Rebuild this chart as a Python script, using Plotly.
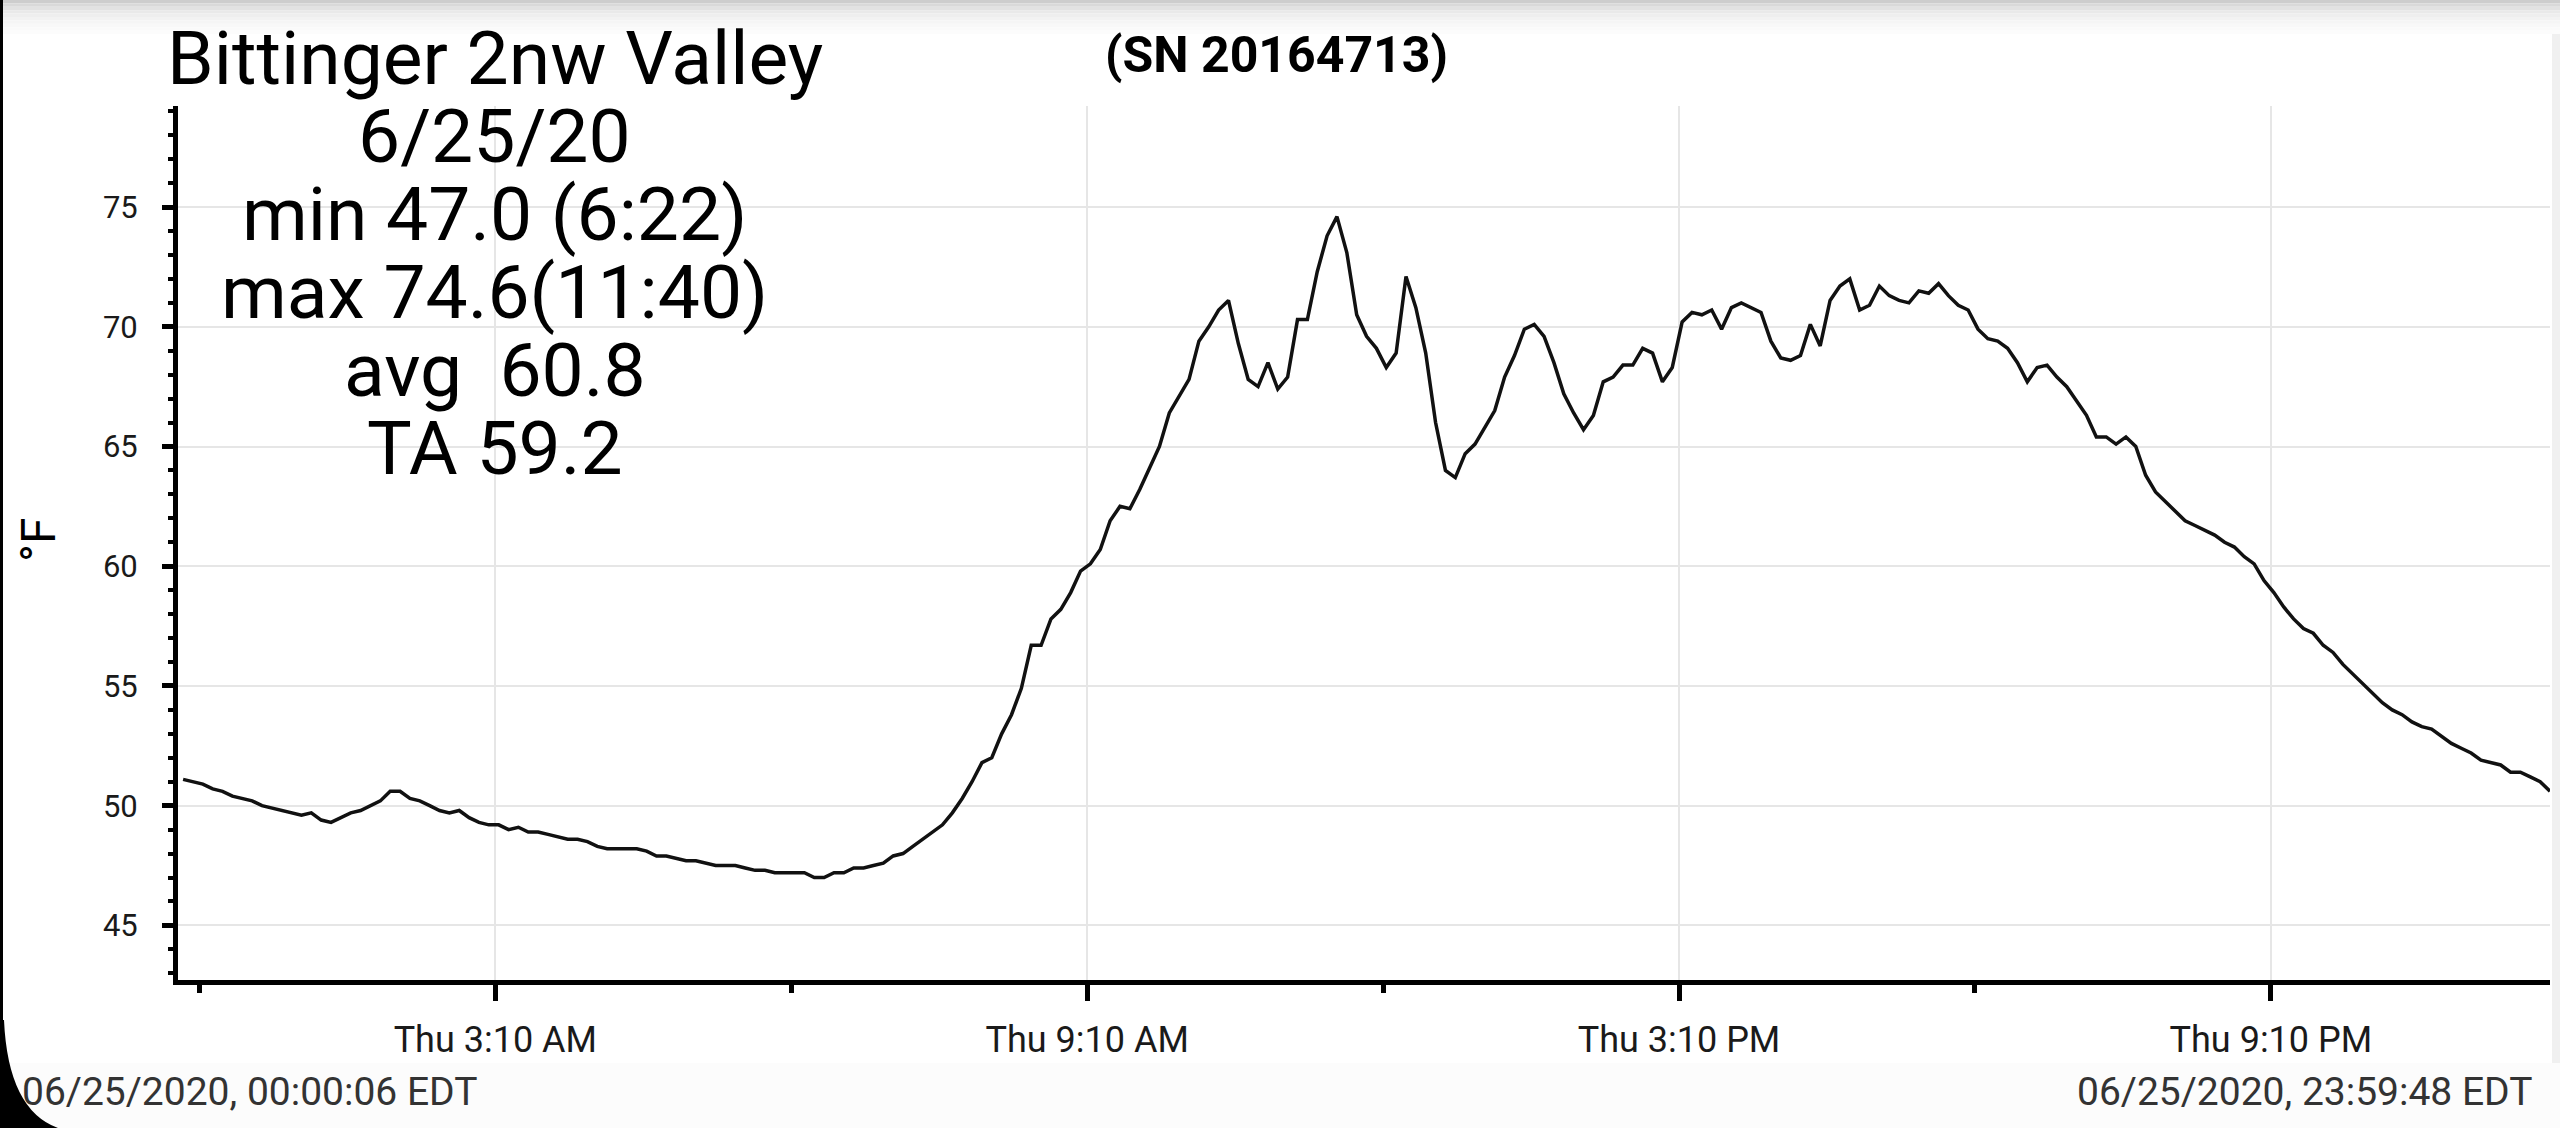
import pandas as pd
import plotly.graph_objects as go

# Temperature log, one reading about every 6 minutes
start_time = "2020-06-25 00:00:06"
end_time = "2020-06-25 23:59:48"
temps = [
    51.1, 51.0, 50.9, 50.7, 50.6, 50.4, 50.3, 50.2, 50.0, 49.9,
    49.8, 49.7, 49.6, 49.7, 49.4, 49.3, 49.5, 49.7, 49.8, 50.0,
    50.2, 50.6, 50.6, 50.3, 50.2, 50.0, 49.8, 49.7, 49.8, 49.5,
    49.3, 49.2, 49.2, 49.0, 49.1, 48.9, 48.9, 48.8, 48.7, 48.6,
    48.6, 48.5, 48.3, 48.2, 48.2, 48.2, 48.2, 48.1, 47.9, 47.9,
    47.8, 47.7, 47.7, 47.6, 47.5, 47.5, 47.5, 47.4, 47.3, 47.3,
    47.2, 47.2, 47.2, 47.2, 47.0, 47.0, 47.2, 47.2, 47.4, 47.4,
    47.5, 47.6, 47.9, 48.0, 48.3, 48.6, 48.9, 49.2, 49.7, 50.3,
    51.0, 51.8, 52.0, 53.0, 53.8, 54.9, 56.7, 56.7, 57.8, 58.2,
    58.9, 59.8, 60.1, 60.7, 61.9, 62.5, 62.4, 63.2, 64.1, 65.0,
    66.4, 67.1, 67.8, 69.4, 70.0, 70.7, 71.1, 69.3, 67.8, 67.5,
    68.5, 67.4, 67.9, 70.3, 70.3, 72.3, 73.8, 74.6, 73.1, 70.5,
    69.6, 69.1, 68.3, 68.9, 72.1, 70.8, 68.9, 66.0, 64.0, 63.7,
    64.7, 65.1, 65.8, 66.5, 67.9, 68.8, 69.9, 70.1, 69.6, 68.5,
    67.2, 66.4, 65.7, 66.3, 67.7, 67.9, 68.4, 68.4, 69.1, 68.9,
    67.7, 68.3, 70.2, 70.6, 70.5, 70.7, 69.9, 70.8, 71.0, 70.8,
    70.6, 69.4, 68.7, 68.6, 68.8, 70.1, 69.2, 71.1, 71.7, 72.0,
    70.7, 70.9, 71.7, 71.3, 71.1, 71.0, 71.5, 71.4, 71.8, 71.3,
    70.9, 70.7, 69.9, 69.5, 69.4, 69.1, 68.5, 67.7, 68.3, 68.4,
    67.9, 67.5, 66.9, 66.3, 65.4, 65.4, 65.1, 65.4, 65.0, 63.8,
    63.1, 62.7, 62.3, 61.9, 61.7, 61.5, 61.3, 61.0, 60.8, 60.4,
    60.1, 59.4, 58.9, 58.3, 57.8, 57.4, 57.2, 56.7, 56.4, 55.9,
    55.5, 55.1, 54.7, 54.3, 54.0, 53.8, 53.5, 53.3, 53.2, 52.9,
    52.6, 52.4, 52.2, 51.9, 51.8, 51.7, 51.4, 51.4, 51.2, 51.0,
    50.6,
]
times = pd.date_range(start_time, end_time, periods=len(temps))

title_lines = [
    "Bittinger 2nw Valley",
    "6/25/20",
    "min 47.0 (6:22)",
    "max 74.6(11:40)",
    "avg\u00a0 60.8",
    "TA 59.2",
]
serial_text = "(SN 20164713)"
start_label = "06/25/2020, 00:00:06 EDT"
end_label = "06/25/2020, 23:59:48 EDT"

# page geometry in pixels
W, H = 2560, 1128
L, R, T, B = 178, 10, 106, 148
pw = W - L - R
ph = H - T - B


def fx(px):
    return (px - L) / pw


def fy(py):
    return (H - B - py) / ph


FONT = "Roboto, Arial, sans-serif"

fig = go.Figure()
fig.add_trace(go.Scatter(
    x=times, y=temps, mode="lines",
    line=dict(color="#111111", width=3.5),
    showlegend=False, hoverinfo="skip"
))

HOUR = 3600 * 1000

fig.update_xaxes(
    type="date",
    range=["2020-06-24 23:57:00", end_time],
    tick0="2020-06-25 03:10", dtick=6 * HOUR,
    tickformat="%a %-I:%M %p",
    showgrid=True, gridcolor="#e6e6e6", gridwidth=2,
    ticks="outside", ticklen=16, tickwidth=5, tickcolor="black",
    showline=True, linewidth=5, linecolor="black",
    zeroline=False,
    tickfont=dict(family=FONT, size=36, color="#1a1a1a"),
    ticklabelstandoff=8,
    minor=dict(tick0="2020-06-25 00:10", dtick=3 * HOUR, ticks="outside",
               ticklen=8, tickwidth=5, tickcolor="black", showgrid=False),
)
fig.update_yaxes(
    range=[42.72, 79.22],
    tick0=0, dtick=5,
    showgrid=True, gridcolor="#e6e6e6", gridwidth=2,
    ticks="outside", ticklen=11, tickwidth=5, tickcolor="black",
    showline=True, linewidth=5, linecolor="black",
    zeroline=False,
    tickfont=dict(family=FONT, size=31, color="#1a1a1a"),
    ticklabelstandoff=18,
    minor=dict(dtick=1, ticks="outside", ticklen=5, tickwidth=4,
               tickcolor="black", showgrid=False),
)

annotations = []
for i, line in enumerate(title_lines):
    annotations.append(dict(
        text=line, xref="paper", yref="paper",
        x=fx(495), y=fy(58 + 78 * i), xanchor="center", yanchor="middle",
        showarrow=False, font=dict(family=FONT, size=75, color="black"),
    ))
annotations.append(dict(
    text="<b>" + serial_text + "</b>", xref="paper", yref="paper",
    x=fx(1276), y=fy(55), xanchor="center", yanchor="middle",
    showarrow=False, font=dict(family=FONT, size=50, color="black"),
))
annotations.append(dict(
    text="°F", xref="paper", yref="paper", textangle=-90,
    x=fx(38), y=fy(540), xanchor="center", yanchor="middle",
    showarrow=False, font=dict(family=FONT, size=48, color="black"),
))
annotations.append(dict(
    text=start_label, xref="paper", yref="paper",
    x=fx(20), y=fy(1092), xanchor="left", yanchor="middle",
    showarrow=False, font=dict(family=FONT, size=39, color="#333333"),
))
annotations.append(dict(
    text=end_label, xref="paper", yref="paper",
    x=fx(2534), y=fy(1092), xanchor="right", yanchor="middle",
    showarrow=False, font=dict(family=FONT, size=39, color="#333333"),
))

# phone frame bits: top shadow, right strip, left border and rounded corner
shapes = []
shade = ["#cdcdcd", "#d9d9d9", "#e2e2e2", "#e9e9e9", "#eeeeee",
         "#f2f2f2", "#f5f5f5", "#f8f8f8", "#fafafa", "#fcfcfc"]
for i, c in enumerate(shade):
    shapes.append(dict(type="rect", xref="paper", yref="paper", layer="below",
                       x0=fx(0), x1=fx(W), y0=fy(i * 3.4), y1=fy((i + 1) * 3.4),
                       fillcolor=c, line=dict(width=0)))
shapes.append(dict(type="rect", xref="paper", yref="paper", layer="below",
                   x0=fx(0), x1=fx(W), y0=fy(1063), y1=fy(H),
                   fillcolor="#fcfcfc", line=dict(width=0)))
shapes.append(dict(type="rect", xref="paper", yref="paper", layer="above",
                   x0=fx(2552), x1=fx(W), y0=fy(34), y1=fy(1063),
                   fillcolor="#f0f0f0", line=dict(width=0)))
shapes.append(dict(type="rect", xref="paper", yref="paper", layer="above",
                   x0=fx(0), x1=fx(3), y0=fy(0), y1=fy(H),
                   fillcolor="black", line=dict(width=0)))
corner = "M {} {} L {} {} Q {} {} {} {} L {} {} Z".format(
    fx(0), fy(1020), fx(4), fy(1020), fx(8), fy(1110), fx(58), fy(H),
    fx(0), fy(H))
shapes.append(dict(type="path", xref="paper", yref="paper", layer="above",
                   path=corner, fillcolor="black", line=dict(width=0)))

fig.update_layout(
    width=W, height=H,
    margin=dict(l=L, r=R, t=T, b=B, pad=0),
    paper_bgcolor="white", plot_bgcolor="white",
    font=dict(family=FONT, color="black"),
    annotations=annotations,
    shapes=shapes,
    showlegend=False,
)

# the page body has a default 8px margin; drop it so the figure sits at 0,0
fig.write_html(
    "out.html",
    config={"displayModeBar": False},
    post_script="document.body.style.margin='0';document.body.style.overflow='hidden';",
)
